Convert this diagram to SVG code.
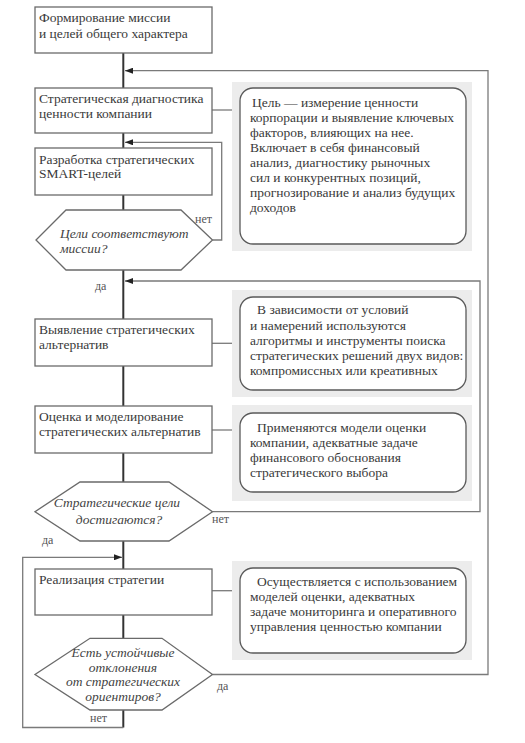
<svg xmlns="http://www.w3.org/2000/svg" width="525" height="743" viewBox="0 0 525 743">
<defs>
<style>
.box{fill:#fff;stroke:#6a6a6a;stroke-width:1.3}
.hex{fill:#fff;stroke:#6a6a6a;stroke-width:1.3}
.panel{fill:#ececec;stroke:none}
.rbox{fill:#fff;stroke:#5a5a5a;stroke-width:1.3}
.main{stroke:#333;stroke-width:2;fill:none}
.loop{stroke:#7a7a7a;stroke-width:1.3;fill:none}
.t{font-family:"Liberation Serif","Times New Roman",serif;font-size:13.5px;fill:#3a3a3a}
.ti{font-family:"Liberation Serif","Times New Roman",serif;font-size:13.5px;font-style:italic;fill:#444}
.lbl{font-family:"Liberation Serif","Times New Roman",serif;font-size:12px;fill:#555}
</style>
<marker id="ah" viewBox="0 0 8 6" refX="8" refY="3" markerWidth="8" markerHeight="6" markerUnits="userSpaceOnUse" orient="auto">
<path d="M0,0 L8,3 L0,6 Z" fill="#222"/>
</marker>
</defs>
<rect width="525" height="743" fill="#fff"/>

<g id="connectors">
<line class="main" x1="123.3" y1="53" x2="123.3" y2="88"/>
<line class="main" x1="123.3" y1="133" x2="123.3" y2="148"/>
<line class="main" x1="123.3" y1="195" x2="123.3" y2="210"/>
<line class="main" x1="123.3" y1="270" x2="123.3" y2="319"/>
<line class="main" x1="123.3" y1="366" x2="123.3" y2="406"/>
<line class="main" x1="123.3" y1="453" x2="123.3" y2="482"/>
<line class="main" x1="123.3" y1="541" x2="123.3" y2="569"/>
<line class="main" x1="123.3" y1="615" x2="123.3" y2="638"/>
<line class="main" x1="123.3" y1="710" x2="123.3" y2="727.5"/>
<polyline class="loop" points="212.5,674.5 488,674.5 488,70.7 125,70.7" marker-end="url(#ah)"/>
<polyline class="loop" points="212.5,240 221.7,240 221.7,142.3 125,142.3" marker-end="url(#ah)"/>
<polyline class="loop" points="212.5,511.7 480,511.7 480,281 125,281" marker-end="url(#ah)"/>
<polyline class="loop" points="123.3,727.5 22.7,727.5 22.7,557.3 122,557.3" marker-end="url(#ah)"/>
<line class="loop" x1="212" y1="110" x2="232" y2="110"/>
<line class="loop" x1="212" y1="343.3" x2="232" y2="343.3"/>
<line class="loop" x1="212" y1="430" x2="232" y2="430"/>
<line class="loop" x1="212" y1="590.7" x2="232" y2="590.7"/>
<text class="lbl" x="195" y="223">нет</text>
<text class="lbl" x="95" y="290">да</text>
<text class="lbl" x="212" y="523">нет</text>
<text class="lbl" x="42" y="544">да</text>
<text class="lbl" x="217" y="690">да</text>
<text class="lbl" x="90" y="722">нет</text>
</g>

<g id="n1">
<rect class="box" x="35" y="7" width="177" height="46"/>
<text class="t" x="39" y="22">Формирование миссии</text>
<text class="t" x="39" y="37.5">и целей общего характера</text>
</g>

<g id="n2">
<rect class="box" x="35" y="88" width="177" height="45"/>
<text class="t" x="39" y="103">Стратегическая диагностика</text>
<text class="t" x="39" y="117.5">ценности компании</text>
</g>

<g id="p1">
<rect class="panel" x="232" y="82" width="240" height="169"/>
<rect class="rbox" x="240" y="88" width="226" height="156" rx="13"/>
<text class="t" x="252" y="107">Цель — измерение ценности</text>
<text class="t" x="250" y="122">корпорации и выявление ключевых</text>
<text class="t" x="250" y="137">факторов, влияющих на нее.</text>
<text class="t" x="250" y="152">Включает в себя финансовый</text>
<text class="t" x="250" y="167">анализ, диагностику рыночных</text>
<text class="t" x="250" y="182">сил и конкурентных позиций,</text>
<text class="t" x="250" y="197">прогнозирование и анализ будущих</text>
<text class="t" x="250" y="212">доходов</text>
</g>

<g id="n3">
<rect class="box" x="35" y="148" width="177" height="47"/>
<text class="t" x="39" y="163.5">Разработка стратегических</text>
<text class="t" x="39" y="178">SMART-целей</text>
</g>

<g id="d1">
<polygon class="hex" points="66,210 181,210 212.5,240 181,270 66,270 36,240"/>
<text class="ti" x="60" y="237.5">Цели соответствуют</text>
<text class="ti" x="60" y="252.5">миссии?</text>
</g>

<g id="n4">
<rect class="box" x="35" y="319" width="177" height="47"/>
<text class="t" x="39" y="334">Выявление стратегических</text>
<text class="t" x="39" y="349">альтернатив</text>
</g>

<g id="p2">
<rect class="panel" x="232" y="290" width="240" height="107"/>
<rect class="rbox" x="240" y="297" width="226" height="93" rx="13"/>
<text class="t" x="257" y="314">В зависимости от условий</text>
<text class="t" x="250" y="330">и намерений используются</text>
<text class="t" x="250" y="345">алгоритмы и инструменты поиска</text>
<text class="t" x="250" y="360">стратегических решений двух видов:</text>
<text class="t" x="250" y="375">компромиссных или креативных</text>
</g>

<g id="n5">
<rect class="box" x="35" y="406" width="177" height="47"/>
<text class="t" x="39" y="421">Оценка и моделирование</text>
<text class="t" x="39" y="436">стратегических альтернатив</text>
</g>

<g id="p3">
<rect class="panel" x="232" y="405" width="240" height="96"/>
<rect class="rbox" x="240" y="413" width="226" height="79" rx="13"/>
<text class="t" x="257" y="432">Применяются модели оценки</text>
<text class="t" x="250" y="447">компании, адекватные задаче</text>
<text class="t" x="250" y="462">финансового обоснования</text>
<text class="t" x="250" y="477">стратегического выбора</text>
</g>

<g id="d2">
<polygon class="hex" points="80,482 169,482 212.5,511.7 169,541 80,541 35,511.7"/>
<text class="ti" x="117" y="507" text-anchor="middle">Стратегические цели</text>
<text class="ti" x="119" y="523.5" text-anchor="middle">достигаются?</text>
</g>

<g id="n6">
<rect class="box" x="35" y="569" width="177" height="46"/>
<text class="t" x="39" y="584">Реализация стратегии</text>
</g>

<g id="p4">
<rect class="panel" x="232" y="561" width="240" height="99"/>
<rect class="rbox" x="240" y="568" width="226" height="85" rx="13"/>
<text class="t" x="257" y="586">Осуществляется с использованием</text>
<text class="t" x="250" y="601">моделей оценки, адекватных</text>
<text class="t" x="250" y="616">задаче мониторинга и оперативного</text>
<text class="t" x="250" y="631">управления ценностью компании</text>
</g>

<g id="d3">
<polygon class="hex" points="90,638.3 162,638.3 212.5,674.5 162,710 90,710 35,674.5"/>
<text class="ti" x="123" y="657" text-anchor="middle">Есть устойчивые</text>
<text class="ti" x="123" y="671.5" text-anchor="middle">отклонения</text>
<text class="ti" x="123" y="686" text-anchor="middle">от стратегических</text>
<text class="ti" x="123" y="700.5" text-anchor="middle">ориентиров?</text>
</g>
</svg>
